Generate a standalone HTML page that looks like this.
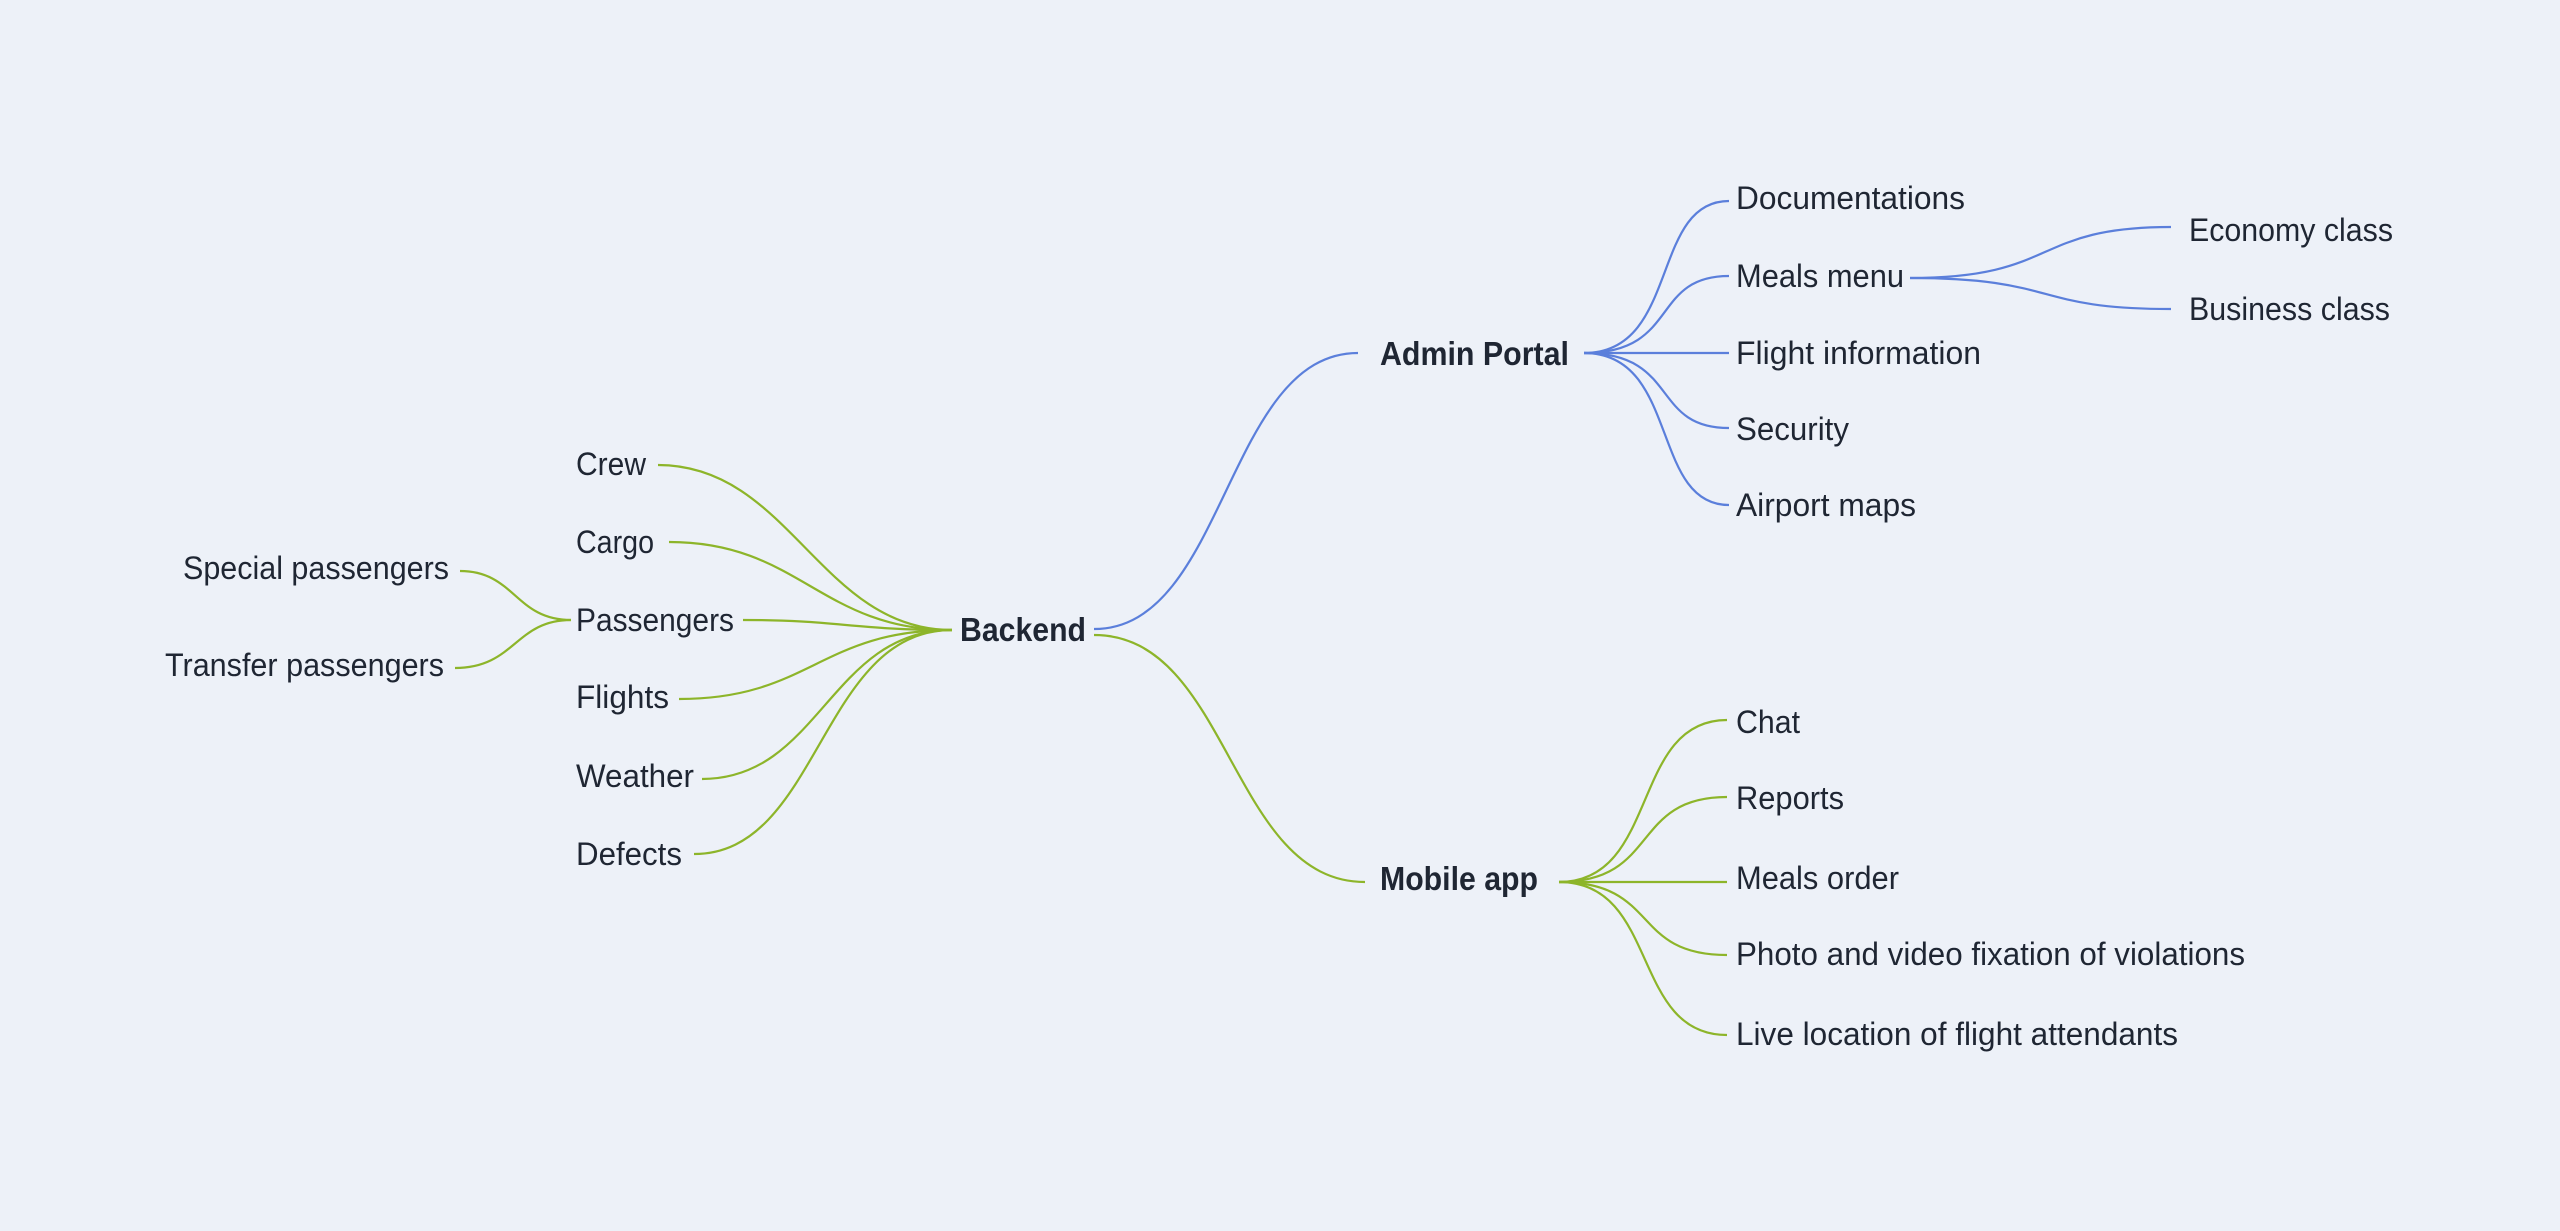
<!DOCTYPE html>
<html><head><meta charset="utf-8"><style>
html,body{margin:0;padding:0;background:#edf1f8;}
svg{display:block}
text{font-family:"Liberation Sans",sans-serif;font-size:32px;fill:#1f2633}
.b{font-weight:bold;font-size:33px}
</style></head><body>
<svg width="2560" height="1231" viewBox="0 0 2560 1231" xmlns="http://www.w3.org/2000/svg">
<rect width="2560" height="1231" fill="#edf1f8"/>
<g fill="none" stroke-width="2.2">
<g stroke="#5b7fdb">
<path d="M1094 629 C1226 629,1226 353,1358 353"/>
<path d="M1584 353 C1680 353,1650 201,1729 201"/>
<path d="M1584 353 C1680 353,1650 276,1729 276"/>
<path d="M1584 353 C1680 353,1650 353,1729 353"/>
<path d="M1584 353 C1680 353,1650 428,1729 428"/>
<path d="M1584 353 C1680 353,1650 505,1729 505"/>
<path d="M1910 278 C2060 278,2030 227,2171 227"/>
<path d="M1910 278 C2060 278,2030 309,2171 309"/>
</g>
<g stroke="#8db52a">
<path d="M1094 635 C1230 635,1230 882,1365 882"/>
<path d="M1559 882 C1660 882,1630 720,1727 720"/>
<path d="M1559 882 C1660 882,1630 797,1727 797"/>
<path d="M1559 882 C1660 882,1630 882,1727 882"/>
<path d="M1559 882 C1660 882,1630 955,1727 955"/>
<path d="M1559 882 C1660 882,1630 1035,1727 1035"/>
<path d="M952 630 C820 630,790 465,658 465"/>
<path d="M952 630 C820 630,800 542,669 542"/>
<path d="M952 630 C850 630,840 620,743 620"/>
<path d="M952 630 C820 630,810 699,679 699"/>
<path d="M952 630 C830 630,820 779,702 779"/>
<path d="M952 630 C820 630,820 854,694 854"/>
<path d="M571 620 C515 620,515 571,460 571"/>
<path d="M571 620 C515 620,515 668,455 668"/>
</g>
</g>
<text class="b" x="960" y="641" textLength="126" lengthAdjust="spacingAndGlyphs">Backend</text>
<text class="b" x="1380" y="365" textLength="189" lengthAdjust="spacingAndGlyphs">Admin Portal</text>
<text class="b" x="1380" y="890" textLength="158" lengthAdjust="spacingAndGlyphs">Mobile app</text>
<text x="1736" y="209" textLength="229" lengthAdjust="spacingAndGlyphs">Documentations</text>
<text x="1736" y="287" textLength="168" lengthAdjust="spacingAndGlyphs">Meals menu</text>
<text x="1736" y="364" textLength="245" lengthAdjust="spacingAndGlyphs">Flight information</text>
<text x="1736" y="440" textLength="113" lengthAdjust="spacingAndGlyphs">Security</text>
<text x="1736" y="516" textLength="180" lengthAdjust="spacingAndGlyphs">Airport maps</text>
<text x="2189" y="241" textLength="204" lengthAdjust="spacingAndGlyphs">Economy class</text>
<text x="2189" y="320" textLength="201" lengthAdjust="spacingAndGlyphs">Business class</text>
<text x="1736" y="733" textLength="64" lengthAdjust="spacingAndGlyphs">Chat</text>
<text x="1736" y="809" textLength="108" lengthAdjust="spacingAndGlyphs">Reports</text>
<text x="1736" y="889" textLength="163" lengthAdjust="spacingAndGlyphs">Meals order</text>
<text x="1736" y="965" textLength="509" lengthAdjust="spacingAndGlyphs">Photo and video fixation of violations</text>
<text x="1736" y="1045" textLength="442" lengthAdjust="spacingAndGlyphs">Live location of flight attendants</text>
<text x="576" y="475" textLength="70" lengthAdjust="spacingAndGlyphs">Crew</text>
<text x="576" y="553" textLength="78" lengthAdjust="spacingAndGlyphs">Cargo</text>
<text x="576" y="631" textLength="158" lengthAdjust="spacingAndGlyphs">Passengers</text>
<text x="576" y="708" textLength="93" lengthAdjust="spacingAndGlyphs">Flights</text>
<text x="576" y="787" textLength="118" lengthAdjust="spacingAndGlyphs">Weather</text>
<text x="576" y="865" textLength="106" lengthAdjust="spacingAndGlyphs">Defects</text>
<text x="183" y="579" textLength="266" lengthAdjust="spacingAndGlyphs">Special passengers</text>
<text x="165" y="676" textLength="279" lengthAdjust="spacingAndGlyphs">Transfer passengers</text>
</svg>
</body></html>
